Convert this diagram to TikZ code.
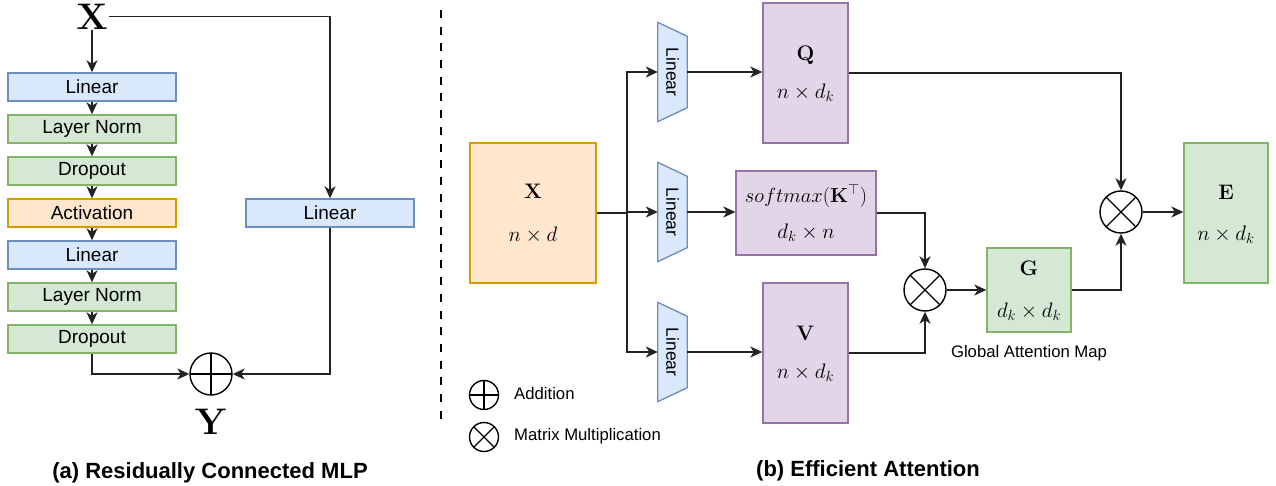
\RequirePackage{fix-cm}
\documentclass[tikz,border=0pt]{standalone}
\usepackage[no-math]{fontspec}
\setmainfont{Liberation Sans}
\usetikzlibrary{arrows.meta,calc}
\definecolor{bfill}{HTML}{DAE8FC}\definecolor{bline}{HTML}{6C8EBF}
\definecolor{gfill}{HTML}{D5E8D4}\definecolor{gline}{HTML}{82B366}
\definecolor{ofill}{HTML}{FFE6CC}\definecolor{oline}{HTML}{D79B00}
\definecolor{pfill}{HTML}{E1D5E7}\definecolor{pline}{HTML}{9673A6}
\definecolor{conn}{HTML}{222222}
\begin{document}
\begin{tikzpicture}[x=1pt,y=-1pt,
  >={Stealth[length=12pt,width=11pt,inset=3.5pt]},
  wire/.style={draw=conn,line width=1.3pt},
  arr/.style={wire,->},
  mlpbox/.style={draw,line width=1.4pt,minimum width=168pt,minimum height=28pt,inner sep=0pt,
    font=\fontsize{19}{22}\selectfont},
  bluebox/.style={mlpbox,fill=bfill,draw=bline},
  greenbox/.style={mlpbox,fill=gfill,draw=gline},
  orangebox/.style={mlpbox,fill=ofill,draw=oline},
  mat/.style={draw,line width=1.4pt,inner sep=0pt},
  pmat/.style={mat,fill=pfill,draw=pline},
  gmat/.style={mat,fill=gfill,draw=gline},
  omat/.style={mat,fill=ofill,draw=oline},
  mtxt/.style={inner sep=0pt,font=\fontsize{21}{24}\selectfont},
  bigm/.style={inner sep=1pt,font=\fontsize{37}{40}\selectfont},
  trap/.style={minimum width=29pt,minimum height=99pt,inner sep=0pt},
  lintxt/.style={rotate=-90,inner sep=0pt,font=\fontsize{17.5}{20}\selectfont},
  opplus/.style={circle,draw=black,line width=1.4pt,inner sep=0pt,fill=white,
    path picture={\draw[line width=1.2pt] (path picture bounding box.north) -- (path picture bounding box.south)
      (path picture bounding box.west) -- (path picture bounding box.east);}},
  optimes/.style={circle,draw=black,line width=1.4pt,inner sep=0pt,fill=white,
    path picture={\draw[line width=1.2pt] (path picture bounding box.north west) -- (path picture bounding box.south east)
      (path picture bounding box.north east) -- (path picture bounding box.south west);}},
  caption/.style={inner sep=0pt,font=\fontsize{22}{26}\selectfont\bfseries},
  small/.style={inner sep=0pt,font=\fontsize{16.7}{20}\selectfont}
]
\useasboundingbox (0,0) rectangle (1276,486);

% ---------------- (a) ----------------
\node[bigm] (xl) at (92,16.5) {$\mathbf{X}$};
\node[bluebox]   (b1) at (92,87)  {Linear};
\node[greenbox]  (b2) at (92,129) {Layer Norm};
\node[greenbox]  (b3) at (92,171) {Dropout};
\node[orangebox] (b4) at (92,213) {Activation};
\node[bluebox]   (b5) at (92,255) {Linear};
\node[greenbox]  (b6) at (92,297) {Layer Norm};
\node[greenbox]  (b7) at (92,339) {Dropout};
\node[bluebox]   (rl) at (330,213) {Linear};
\node[opplus,minimum size=42pt] (op) at (211,374) {};
\node[bigm] (yl) at (211,422) {$\mathbf{Y}$};

\draw[arr] (xl.south) -- (b1.north);
\draw[arr] (b1) -- (b2);
\draw[arr] (b2) -- (b3);
\draw[arr] (b3) -- (b4);
\draw[arr] (b4) -- (b5);
\draw[arr] (b5) -- (b6);
\draw[arr] (b6) -- (b7);
\draw[arr] (xl.east) -| (rl.north);
\draw[arr] (rl.south) |- (op.east);
\draw[arr] (b7.south) |- (op.west);

\node[caption] (capa) at (210,473) {(a) Residually Connected MLP};

% divider
\coordinate (dtop) at (441,10);
\coordinate (dbot) at (441,422);
\draw[line width=2.4pt,dash pattern=on 8pt off 8.7pt] (dtop) -- (dbot);

% ---------------- (b) ----------------
\node[omat,minimum width=126pt,minimum height=140pt] (xb) at (533,213) {};
\node[mtxt] (xbt) at (533,191) {$\mathbf{X}$};
\node[mtxt] (xbd) at (533,235) {$n\times d$};

\foreach \n/\y in {lq/72,lk/212,lv/352}{
  \node[trap] (\n) at (672.5,\y) {};
  \draw[fill=bfill,draw=bline,line width=1.3pt] (\n.north west) -- ($(\n.north east)+(0,-14pt)$)
     -- ($(\n.south east)+(0,14pt)$) -- (\n.south west) -- cycle;
  \node[lintxt] (\n t) at (\n) {Linear};
}

\node[pmat,minimum width=85pt,minimum height=140pt] (q) at (805.5,73) {};
\node[mtxt] (qt) at (805.5,55) {$\mathbf{Q}$};
\node[mtxt] (qd) at (805.5,93) {$n\times d_k$};

\node[pmat,minimum width=140pt,minimum height=84pt] (sm) at (806,213) {};
\node[mtxt,font=\fontsize{20.5}{24}\selectfont] (smt) at (806,196) {$softmax(\mathbf{K}^{\top})$};
\node[mtxt] (smd) at (806,233) {$d_k\times n$};

\node[pmat,minimum width=85pt,minimum height=140pt] (v) at (805.5,353) {};
\node[mtxt] (vt) at (805.5,333) {$\mathbf{V}$};
\node[mtxt] (vd) at (805.5,373) {$n\times d_k$};

\node[optimes,minimum size=42pt] (om1) at (925,290) {};
\node[gmat,minimum width=84pt,minimum height=84pt] (g) at (1029,290) {};
\node[mtxt] (gt) at (1029,268) {$\mathbf{G}$};
\node[mtxt] (gd) at (1029,312) {$d_k\times d_k$};
\node[small] (gam) at (1029,353) {Global Attention Map};

\node[optimes,minimum size=42pt] (om2) at (1121,212) {};
\node[gmat,minimum width=84pt,minimum height=140pt] (e) at (1226,213) {};
\node[mtxt] (et) at (1226,192) {$\mathbf{E}$};
\node[mtxt] (ed) at (1226,235) {$n\times d_k$};

\coordinate (br) at (627,212);
\draw[wire] (xb.east) -- (xb.east -| br);
\draw[arr] (br) |- (lq.west);
\draw[arr] (br) -- (lk.west);
\draw[arr] (br) |- (lv.west);
\draw[arr] (lq.east) -- (lq.east -| q.west);
\draw[arr] (lk.east) -- (lk.east -| sm.west);
\draw[arr] (lv.east) -- (lv.east -| v.west);
\draw[arr] (sm.east) -| (om1.north);
\draw[arr] (v.east) -| (om1.south);
\draw[arr] (om1.east) -- (g.west);
\draw[arr] (g.east) -| (om2.south);
\draw[arr] (q.east) -| (om2.north);
\draw[arr] (om2.east) -- (om2.east -| e.west);

% legend
\node[opplus,minimum size=29pt] (lg1) at (484,395) {};
\node[small,anchor=west] (lg1t) at (514,394) {Addition};
\node[optimes,minimum size=29pt] (lg2) at (484,437) {};
\node[small,anchor=west] (lg2t) at (514,436) {Matrix Multiplication};

\node[caption] (capb) at (868,471) {(b) Efficient Attention};
\end{tikzpicture}
\end{document}
